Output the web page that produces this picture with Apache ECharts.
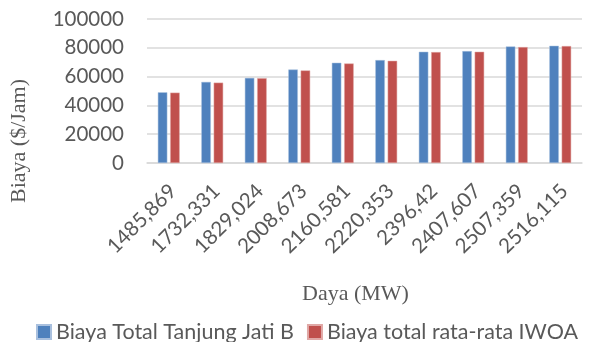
<!DOCTYPE html>
<html>
<head>
<meta charset="utf-8">
<script src="https://cdn.jsdelivr.net/npm/echarts@6/dist/echarts.min.js"></script>
<style>
html,body{margin:0;padding:0;background:#fff;}
#chart{width:590px;height:342px;}
</style>
</head>
<body>
<div id="chart"></div>
<script>
var categories = ['1485,869','1732,331','1829,024','2008,673','2160,581','2220,353','2396,42','2407,607','2507,359','2516,115'];
var seriesNames = ['Biaya Total Tanjung Jati B','Biaya total rata-rata IWOA'];
var tanjungJati = [49100, 56300, 59100, 64900, 69600, 71450, 77250, 77700, 80950, 81400];
var iwoa = [48850, 55800, 58900, 64300, 69100, 70950, 77000, 77250, 80500, 81200];
var yTicks = {min: 0, max: 100000, interval: 20000};

var chart = echarts.init(document.getElementById('chart'), null, {renderer: 'canvas'});
chart.setOption({
  animation: false,
  grid: {left: 146, right: 8, top: 19, bottom: 179, containLabel: false},
  legend: {
    data: seriesNames,
    top: 321,
    left: 36,
    padding: 0,
    itemWidth: 14,
    itemHeight: 14,
    itemGap: 13,
    icon: 'rect',
    textStyle: {fontFamily: 'Lato', fontSize: 21.5, color: '#595959'}
  },
  xAxis: {
    type: 'category',
    data: categories,
    name: 'Daya (MW)',
    nameLocation: 'middle',
    nameGap: 120,
    nameTextStyle: {fontFamily: 'Liberation Serif', fontSize: 22, color: '#595959', padding: [0, 18, 0, 0]},
    axisLine: {lineStyle: {color: '#d9d9d9', width: 1.5}},
    axisTick: {show: false},
    axisLabel: {rotate: 45, fontFamily: 'Lato', fontSize: 20.5, color: '#595959', margin: 29, interval: 0, padding: [0, -6, 0, 0]}
  },
  yAxis: {
    type: 'value',
    min: yTicks.min,
    max: yTicks.max,
    interval: yTicks.interval,
    name: 'Biaya ($/Jam)',
    nameLocation: 'middle',
    nameGap: 117,
    nameTextStyle: {fontFamily: 'Liberation Serif', fontSize: 22, color: '#595959', padding: [0, 100, 0, 0]},
    axisLine: {show: false},
    axisTick: {show: false},
    axisLabel: {fontFamily: 'Lato', fontSize: 20.5, color: '#595959', margin: 23, formatter: function (v) { return String(v); }},
    splitLine: {lineStyle: {color: '#d9d9d9', width: 1.5}}
  },
  series: [
    {name: seriesNames[0], type: 'bar', data: tanjungJati, barWidth: 9.5, barGap: '30%',
     itemStyle: {color: '#4F81BD', borderColor: '#a9c0de', borderWidth: 0.5}},
    {name: seriesNames[1], type: 'bar', data: iwoa, barWidth: 9.5, barGap: '30%',
     itemStyle: {color: '#C0504D', borderColor: '#e0a8a6', borderWidth: 0.5}}
  ]
});
</script>
</body>
</html>
